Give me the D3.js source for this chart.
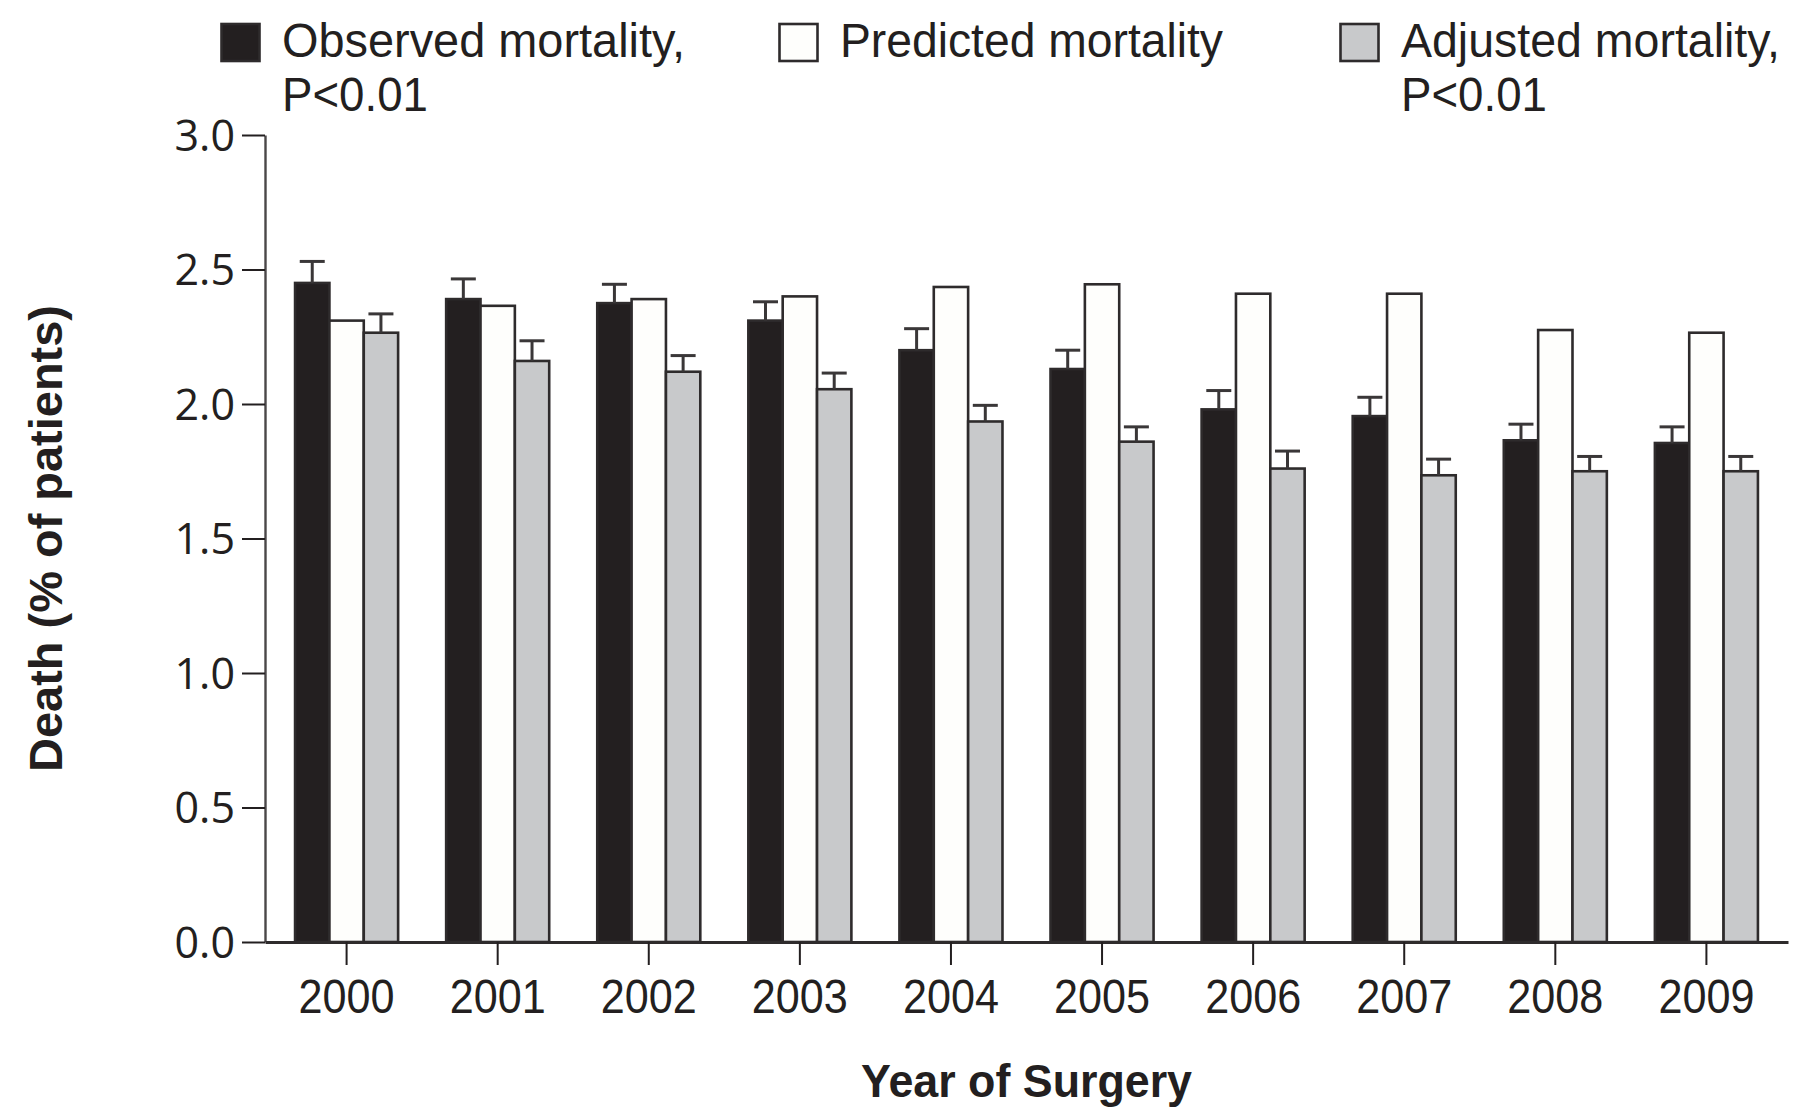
<!DOCTYPE html>
<html>
<head>
<meta charset="utf-8">
<script src="https://cdn.jsdelivr.net/npm/d3@7/dist/d3.min.js"></script>
<style>
  html, body { margin: 0; padding: 0; background: #fff; }
  svg { display: block; }
</style>
</head>
<body>
<svg id="chart" width="1799" height="1110"></svg>
<script>
// Death after surgery by year: observed, predicted and risk-adjusted mortality (% of patients)
const years = ['2000', '2001', '2002', '2003', '2004', '2005', '2006', '2007', '2008', '2009'];
const seriesKeys = ['observed', 'predicted', 'adjusted'];
const observed = [2.45, 2.39, 2.375, 2.31, 2.20, 2.13, 1.98, 1.955, 1.865, 1.855];
const predicted = [2.31, 2.365, 2.39, 2.40, 2.435, 2.445, 2.41, 2.41, 2.275, 2.265];
const adjusted = [2.265, 2.16, 2.12, 2.055, 1.935, 1.86, 1.76, 1.735, 1.75, 1.75];
// upper error half-widths
const observedErr = [0.08, 0.075, 0.07, 0.07, 0.08, 0.07, 0.07, 0.07, 0.06, 0.06];
const adjustedErr = [0.07, 0.075, 0.06, 0.06, 0.06, 0.055, 0.065, 0.06, 0.055, 0.055];
const yTicks = [0, 0.5, 1.0, 1.5, 2.0, 2.5, 3.0];
const legendLabels = [['Observed mortality,', 'P<0.01'], ['Predicted mortality'], ['Adjusted mortality,', 'P<0.01']];
const yTitle = 'Death (% of patients)';
const xTitle = 'Year of Surgery';

const INK = '#231f20';
const fills = { observed: '#231f20', predicted: '#fefefc', adjusted: '#c8c9cb' };
const narrow = "'Liberation Sans Narrow', 'Arial Narrow', 'Liberation Sans', Arial, sans-serif";
const tickFont = "'Open Sans', 'Noto Sans', sans-serif";

const svg = d3.select('#chart');

const plotLeft = 265, plotRight = 1788, plotTop = 135, plotBottom = 942;

const y = d3.scaleLinear().domain([0, 3]).range([plotBottom, plotTop]);
const x0 = d3.scaleBand().domain(years).range([plotLeft, plotRight]).paddingInner(0.318).paddingOuter(0.199);
const x1 = d3.scaleBand().domain(seriesKeys).range([0, x0.bandwidth()]);

const rows = years.map((yr, i) => ({
  year: yr,
  observed: observed[i], predicted: predicted[i], adjusted: adjusted[i],
  errs: { observed: observedErr[i], adjusted: adjustedErr[i] }
}));

// bars
const groups = svg.append('g').selectAll('g').data(rows).join('g')
  .attr('transform', d => `translate(${x0(d.year)},0)`);

groups.selectAll('rect').data(d => seriesKeys.map(k => ({ key: k, value: d[k] })))
  .join('rect')
  .attr('x', d => x1(d.key))
  .attr('y', d => y(d.value))
  .attr('width', x1.bandwidth())
  .attr('height', d => y(0) - y(d.value))
  .attr('fill', d => fills[d.key])
  .attr('stroke', '#2e2b2c')
  .attr('stroke-width', 2.6);

// error bars (upper only)
const capW = 25;
groups.selectAll('g.err').data(d => ['observed', 'adjusted'].map(k => ({ key: k, value: d[k], err: d.errs[k] })))
  .join('g').attr('class', 'err')
  .each(function (d) {
    const g = d3.select(this);
    const cx = x1(d.key) + x1.bandwidth() / 2;
    g.append('line').attr('x1', cx).attr('x2', cx)
      .attr('y1', y(d.value)).attr('y2', y(d.value + d.err))
      .attr('stroke', '#3a3738').attr('stroke-width', 3);
    g.append('line').attr('x1', cx - capW / 2).attr('x2', cx + capW / 2)
      .attr('y1', y(d.value + d.err)).attr('y2', y(d.value + d.err))
      .attr('stroke', '#3a3738').attr('stroke-width', 3);
  });

// y axis
const yAxis = svg.append('g').attr('transform', `translate(${plotLeft},0)`)
  .call(d3.axisLeft(y).tickValues(yTicks).tickFormat(d3.format('.1f')).tickSize(23).tickSizeOuter(0).tickPadding(7));
yAxis.select('.domain').attr('stroke', '#4a4748').attr('stroke-width', 2.4);
yAxis.selectAll('.tick line').attr('stroke', INK).attr('stroke-width', 2);
yAxis.selectAll('.tick text')
  .attr('fill', INK).attr('font-family', tickFont).attr('font-size', 43)
  .attr('dy', '0.36em');

// x axis
const xAxis = svg.append('g').attr('transform', `translate(0,${plotBottom})`)
  .call(d3.axisBottom(x0).tickSize(23).tickSizeOuter(0).tickPadding(12));
xAxis.select('.domain').attr('stroke', '#2e2b2c').attr('stroke-width', 3);
xAxis.selectAll('.tick line').attr('stroke', INK).attr('stroke-width', 2);
xAxis.selectAll('.tick text')
  .attr('fill', INK).attr('font-family', narrow).attr('font-size', 49)
  .attr('dy', null).attr('y', 71)
  .attr('textLength', 96).attr('lengthAdjust', 'spacingAndGlyphs');

// axis titles
svg.append('text')
  .attr('transform', `translate(62,${(plotTop + plotBottom) / 2}) rotate(-90)`)
  .attr('text-anchor', 'middle')
  .attr('font-family', narrow).attr('font-weight', 'bold').attr('font-size', 47)
  .attr('fill', INK)
  .attr('textLength', 467).attr('lengthAdjust', 'spacingAndGlyphs')
  .text(yTitle);

svg.append('text')
  .attr('x', (plotLeft + plotRight) / 2).attr('y', 1097)
  .attr('text-anchor', 'middle')
  .attr('font-family', narrow).attr('font-weight', 'bold').attr('font-size', 47)
  .attr('fill', INK)
  .attr('textLength', 331).attr('lengthAdjust', 'spacingAndGlyphs')
  .text(xTitle);

// legend
const legendLayout = [
  { x: 220, widths: [403, 146] },
  { x: 778, widths: [383] },
  { x: 1339, widths: [379, 146] }
];
const legend = svg.append('g');
seriesKeys.forEach((k, i) => {
  const L = legendLayout[i];
  legend.append('rect')
    .attr('x', L.x + 1.5).attr('y', 24).attr('width', 38).attr('height', 37)
    .attr('fill', fills[k]).attr('stroke', '#2e2b2c').attr('stroke-width', 2.6);
  legendLabels[i].forEach((line, j) => {
    legend.append('text')
      .attr('x', L.x + 62).attr('y', 57 + j * 54)
      .attr('font-family', narrow).attr('font-size', 49)
      .attr('fill', INK)
      .attr('textLength', L.widths[j]).attr('lengthAdjust', 'spacingAndGlyphs')
      .text(line);
  });
});
</script>
</body>
</html>
